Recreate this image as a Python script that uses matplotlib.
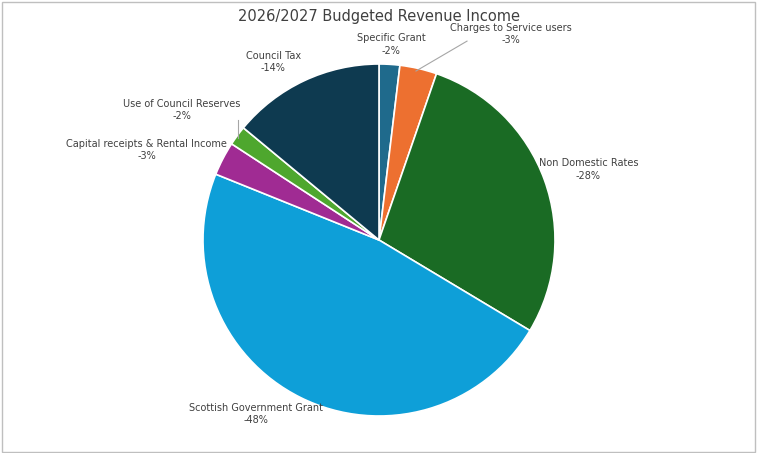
import matplotlib.pyplot as plt
from matplotlib.patches import Rectangle

labels = ["Specific Grant", "Charges to Service users", "Non Domestic Rates",
          "Scottish Government Grant", "Capital receipts & Rental Income",
          "Use of Council Reserves", "Council Tax"]
values = [1.9, 3.4, 28.3, 47.5, 3.1, 1.8, 14.0]
pct_text = ["-2%", "-3%", "-28%", "-48%", "-3%", "-2%", "-14%"]
colors = ["#1f6a8c", "#ed7030", "#1a6b24", "#0e9fd8", "#a02b93", "#4ea72e", "#0e3a50"]

# label centres in pie units (radius 1) and leader-line start points
label_pos = [(0.07, 1.11), (0.75, 1.17), (1.19, 0.40), (-0.70, -0.99),
             (-1.32, 0.51), (-1.12, 0.74), (-0.60, 1.01)]
leaders = {1: ((0.50, 1.13), (0.21, 0.96)), 5: ((-0.80, 0.68), (-0.80, 0.58))}

W, H = 757, 453
R = 176
cx, cy = 379, 240
span = 1.6

fig = plt.figure(figsize=(W / 100, H / 100), dpi=100)
ax = fig.add_axes([(cx - span * R) / W, (H - cy - span * R) / H,
                   2 * span * R / W, 2 * span * R / H])
ax.pie(values, colors=colors, startangle=90, counterclock=False, radius=1,
       wedgeprops=dict(edgecolor="white", linewidth=1.2))
ax.set_xlim(-span, span)
ax.set_ylim(-span, span)
ax.set_aspect("equal")
ax.axis("off")

for i, (lab, p) in enumerate(zip(labels, pct_text)):
    x, y = label_pos[i]
    ax.text(x, y, f"{lab}\n{p}", ha="center", va="center", fontsize=7,
            color="#404040", linespacing=1.3)
    if i in leaders:
        (x0, y0), (x1, y1) = leaders[i]
        ax.plot([x0, x1], [y0, y1], color="#a6a6a6", linewidth=0.8)

fig.text(cx / W, 1 - 17 / H, "2026/2027 Budgeted Revenue Income",
         ha="center", va="center", fontsize=10.5, color="#404040")
fig.patches.append(Rectangle((0.002, 0.003), 0.995, 0.993, transform=fig.transFigure,
                             fill=False, edgecolor="#bfbfbf", linewidth=1))

fig.savefig("out.png", dpi=100)
